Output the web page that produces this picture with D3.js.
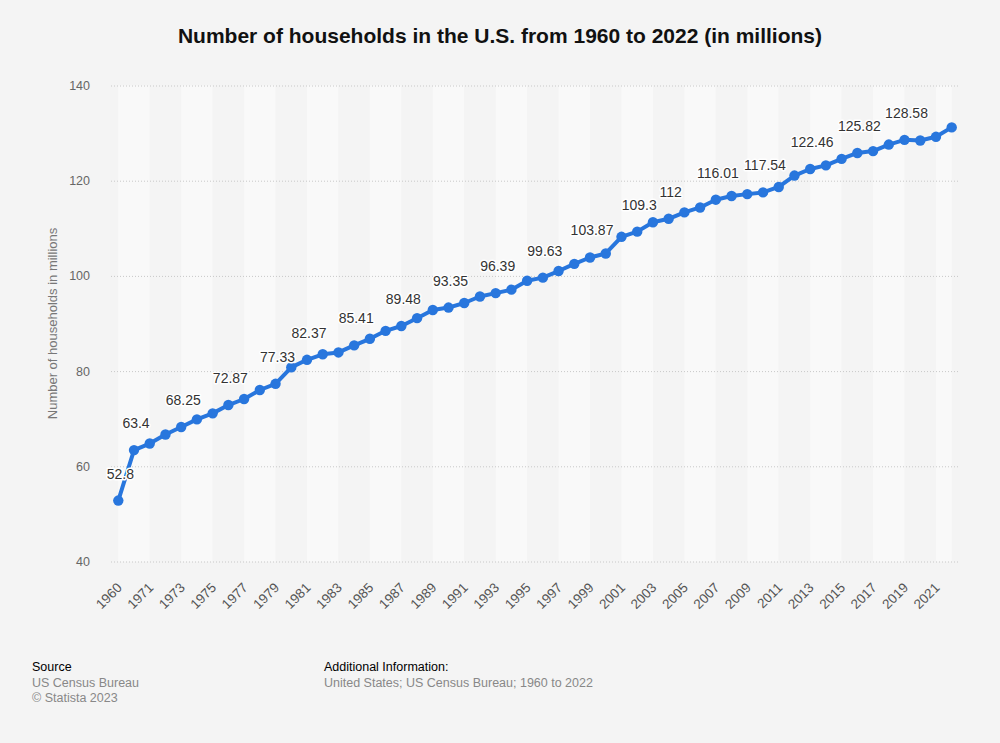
<!DOCTYPE html>
<html>
<head>
<meta charset="utf-8">
<script src="https://cdn.jsdelivr.net/npm/d3@7"></script>
<style>
  html, body { margin: 0; padding: 0; background: #f4f4f4; }
  svg { display: block; font-family: "Liberation Sans", Arial, sans-serif; }
</style>
</head>
<body>
<svg id="chart" width="1000" height="743"></svg>
<script>
// ---- data ----
const years = ["1960","1970","1971","1972","1973","1974","1975","1976","1977","1978","1979",
  "1980","1981","1982","1983","1984","1985","1986","1987","1988","1989",
  "1990","1991","1992","1993","1994","1995","1996","1997","1998","1999",
  "2000","2001","2002","2003","2004","2005","2006","2007","2008","2009",
  "2010","2011","2012","2013","2014","2015","2016","2017","2018","2019",
  "2020","2021","2022"];
const households = [52.8, 63.4, 64.78, 66.68, 68.25, 69.86, 71.12, 72.87, 74.14, 76.03, 77.33,
  80.78, 82.37, 83.53, 83.92, 85.41, 86.79, 88.46, 89.48, 91.12, 92.83,
  93.35, 94.31, 95.67, 96.39, 97.11, 98.99, 99.63, 101.02, 102.53, 103.87,
  104.71, 108.21, 109.3, 111.28, 112, 113.34, 114.38, 116.01, 116.78, 117.18,
  117.54, 118.68, 121.08, 122.46, 123.23, 124.59, 125.82, 126.22, 127.59, 128.58,
  128.45, 129.22, 131.2];
const labeledYears = ["1960","1970","1973","1976","1979","1981","1984","1987","1990","1993",
  "1996","1999","2002","2004","2007","2010","2013","2016","2019"];
const xTickLabels = years.filter((d, i) => i % 2 === 0);
const yTicks = [40, 60, 80, 100, 120, 140];

const titleText = "Number of households in the U.S. from 1960 to 2022 (in millions)";
const yAxisTitle = "Number of households in millions";

// ---- layout ----
const svg = d3.select("#chart");
const W = 1000, H = 743;
const x0 = 118.3, x1 = 951.7, yTop = 85.5, yBot = 561.5;
const gridL = 111, gridR = 958;

svg.append("rect").attr("width", W).attr("height", H).attr("fill", "#f4f4f4");

const x = d3.scalePoint().domain(years).range([x0, x1]);
const y = d3.scaleLinear().domain([40, 140]).range([yBot, yTop]);

// alternating bands (every two categories)
const bandStarts = years.filter((d, i) => i % 2 === 0);
svg.append("g").selectAll("rect").data(bandStarts).join("rect")
  .attr("x", d => x(d))
  .attr("y", yTop)
  .attr("width", d => {
    const idx = years.indexOf(d);
    const next = years[Math.min(idx + 2, years.length - 1)];
    return x(next) - x(d);
  })
  .attr("height", yBot - yTop)
  .attr("fill", (d, i) => i % 2 === 0 ? "#f9f9f9" : "#f4f4f4");

// y grid + labels
const yAxis = svg.append("g")
  .attr("transform", `translate(${gridR},0)`)
  .call(d3.axisLeft(y).tickValues(yTicks).tickSize(gridR - gridL).tickPadding(21));
yAxis.select(".domain").remove();
yAxis.selectAll(".tick line")
  .attr("stroke", "#c8c8c8").attr("stroke-width", 1).attr("stroke-dasharray", "1,2");
yAxis.selectAll(".tick text")
  .attr("fill", "#666").attr("font-size", 12.5)
  .attr("font-family", "'Liberation Sans', Arial, sans-serif");

// x axis labels
const xAxis = svg.append("g")
  .attr("transform", `translate(0,${yBot})`)
  .call(d3.axisBottom(x).tickValues(xTickLabels).tickSize(0));
xAxis.select(".domain").remove();
xAxis.selectAll(".tick text")
  .attr("x", 0).attr("y", 0).attr("dy", 0)
  .attr("transform", "translate(4,27) rotate(-45)")
  .attr("text-anchor", "end")
  .attr("fill", "#555").attr("font-size", 13.5)
  .attr("font-family", "'Liberation Sans', Arial, sans-serif");

// y axis title
svg.append("text")
  .attr("transform", `translate(57,${(yTop + yBot) / 2}) rotate(-90)`)
  .attr("text-anchor", "middle")
  .attr("fill", "#777").attr("font-size", 13)
  .text(yAxisTitle);

// line
const line = d3.line().x((d, i) => x(years[i])).y(d => y(d));
svg.append("path").datum(households)
  .attr("d", line)
  .attr("fill", "none")
  .attr("stroke", "#2876dd")
  .attr("stroke-width", 4)
  .attr("stroke-linejoin", "round");

svg.append("g").selectAll("circle").data(households).join("circle")
  .attr("cx", (d, i) => x(years[i]))
  .attr("cy", d => y(d))
  .attr("r", 5.2)
  .attr("fill", "#2876dd");

// data labels
const labelData = labeledYears.map(yr => ({ yr, v: households[years.indexOf(yr)] }));
svg.append("g").selectAll("text").data(labelData).join("text")
  .attr("x", d => x(d.yr) + 2)
  .attr("y", d => y(d.v) - 22)
  .attr("text-anchor", "middle")
  .attr("font-size", 14)
  .attr("fill", "#333")
  .attr("stroke", "#ffffff")
  .attr("stroke-width", 3)
  .attr("stroke-linejoin", "round")
  .attr("paint-order", "stroke")
  .text(d => String(d.v));

// title
svg.append("text")
  .attr("x", 500).attr("y", 43)
  .attr("text-anchor", "middle")
  .attr("font-size", 21).attr("font-weight", "bold")
  .attr("fill", "#111")
  .text(titleText);

// footer
const foot = svg.append("g").attr("font-size", 12.5);
foot.append("text").attr("x", 32).attr("y", 671).attr("fill", "#000").text("Source");
foot.append("text").attr("x", 32).attr("y", 687).attr("fill", "#888").text("US Census Bureau");
foot.append("text").attr("x", 32).attr("y", 702).attr("fill", "#888").text("© Statista 2023");
foot.append("text").attr("x", 324).attr("y", 671).attr("fill", "#000").text("Additional Information:");
foot.append("text").attr("x", 324).attr("y", 687).attr("fill", "#888").text("United States; US Census Bureau; 1960 to 2022");
</script>
</body>
</html>
